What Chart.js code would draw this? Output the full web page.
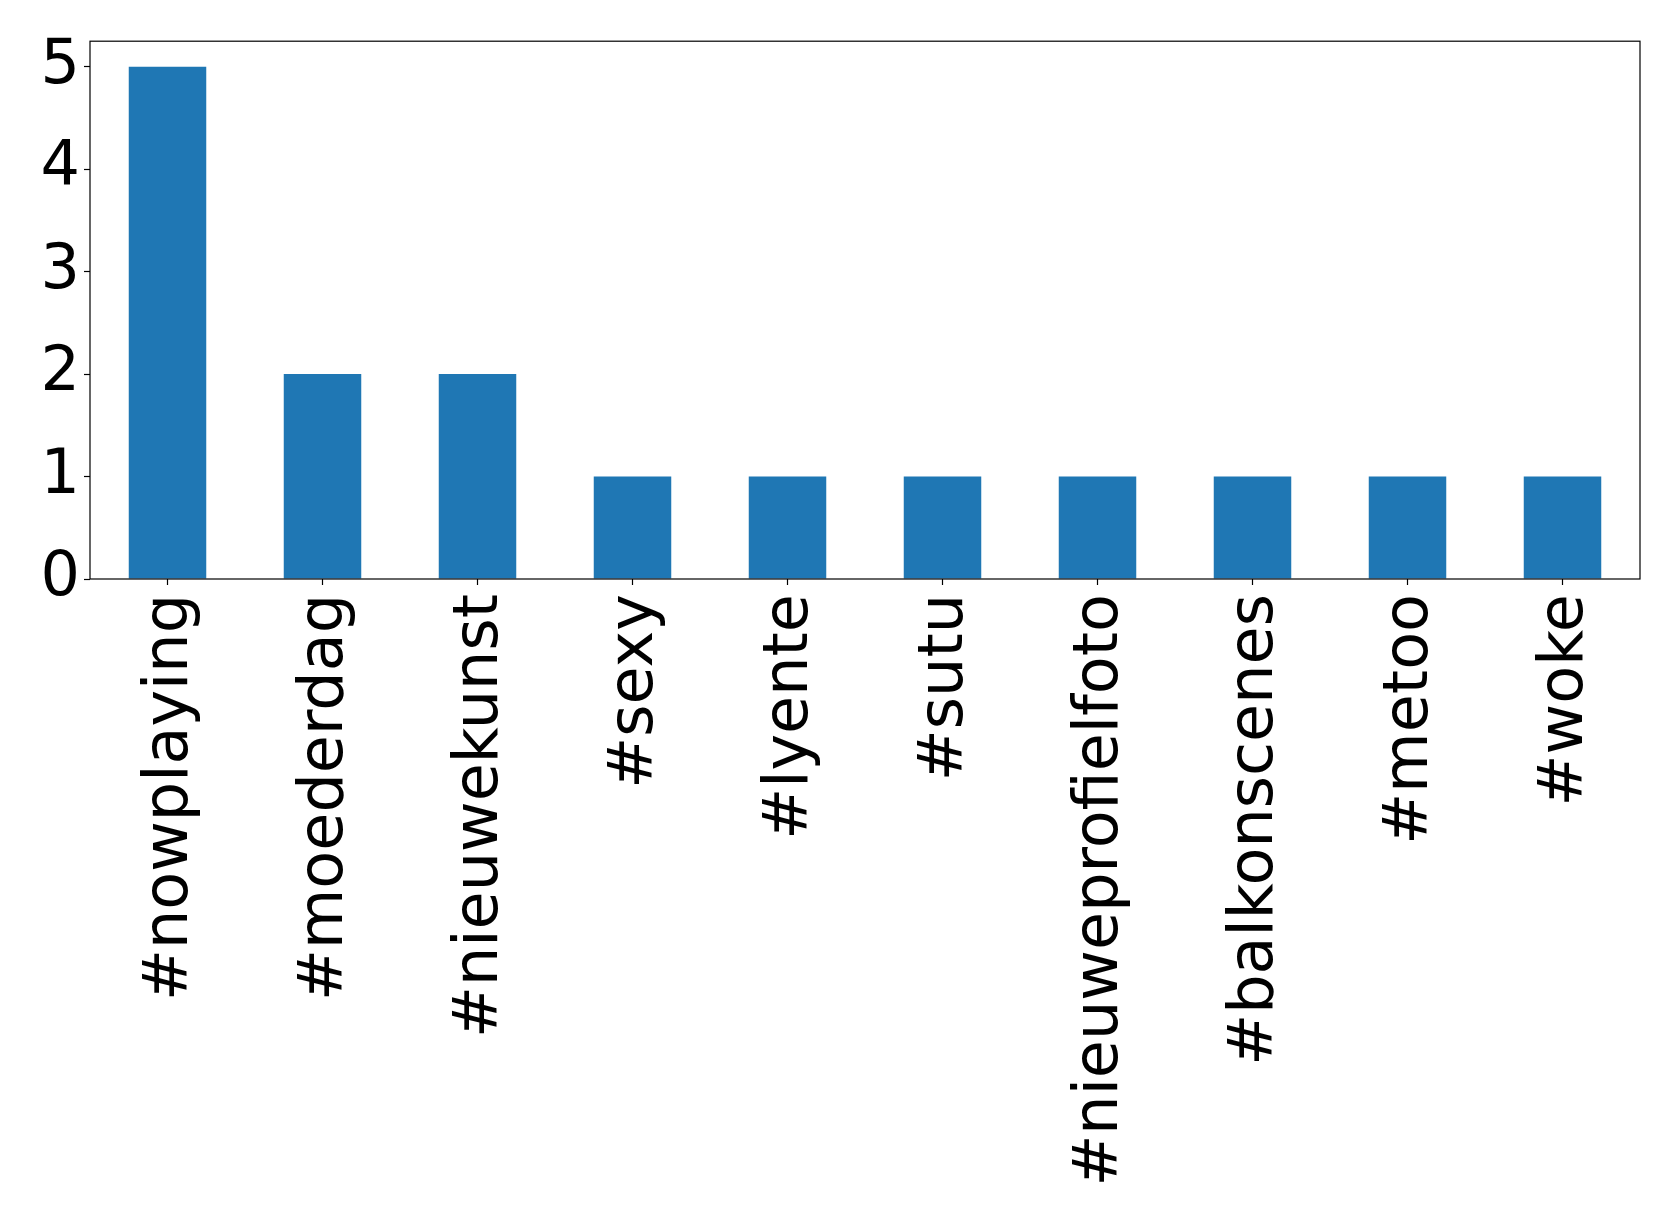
<!DOCTYPE html>
<html>
<head>
<meta charset="utf-8">
<script src="https://cdn.jsdelivr.net/npm/chart.js@4"></script>
<style>
    html, body { margin: 0; padding: 0; background: #ffffff; }
    #wrap { width: 1679px; height: 1226px; position: relative; }
</style>
</head>
<body>
<div id="wrap"><canvas id="hashChart"></canvas></div>
<script>
// hashtag counts
const hashtags = ['#nowplaying', '#moederdag', '#nieuwekunst', '#sexy', '#lyente', '#sutu', '#nieuweprofielfoto', '#balkonscenes', '#metoo', '#woke']
const counts = [5, 2, 2, 1, 1, 1, 1, 1, 1, 1]
const yTicks = [0, 1, 2, 3, 4, 5]

const FONT = { family: "'DejaVu Sans', sans-serif", size: 62 }

// frame round the plot area (matplotlib style box)
const frame = {
    id: 'frame',
    afterDraw(chart) {
        const a = chart.chartArea, ctx = chart.ctx
        ctx.save()
        ctx.strokeStyle = '#000000'
        ctx.lineWidth = 1.2
        ctx.strokeRect(a.left, a.top, a.right - a.left, a.bottom - a.top)
        ctx.restore()
    }
}

new Chart(document.getElementById('hashChart').getContext('2d'), {
    type: 'bar',
    data: {
        labels: hashtags,
        datasets: [{
            data: counts,
            backgroundColor: '#1f77b4',
            borderWidth: 0,
            categoryPercentage: 1.0,
            barPercentage: 0.5
        }]
    },
    options: {
        responsive: true,
        maintainAspectRatio: false,
        animation: false,
        layout: { padding: { top: 40, right: 39, left: 0, bottom: 0 } },
        plugins: { legend: { display: false }, tooltip: { enabled: false } },
        scales: {
            x: {
                afterFit: (s) => { s.height = 647 },
                grid: { display: true, drawOnChartArea: false, offset: false, color: '#000000', tickLength: 6, tickWidth: 1.2 },
                border: { display: false },
                ticks: { color: '#000000', font: FONT, minRotation: 90, maxRotation: 90, autoSkip: false, padding: 9, labelOffset: 3 }
            },
            y: {
                min: 0,
                max: 5.25,
                afterFit: (s) => { s.width = 90 },
                afterBuildTicks: (s) => { s.ticks = yTicks.map(v => ({ value: v })) },
                grid: { display: true, drawOnChartArea: false, color: '#000000', tickLength: 6, tickWidth: 1.2 },
                border: { display: false },
                ticks: { color: '#000000', font: FONT, padding: 4 }
            }
        }
    },
    plugins: [frame]
})
</script>
</body>
</html>
